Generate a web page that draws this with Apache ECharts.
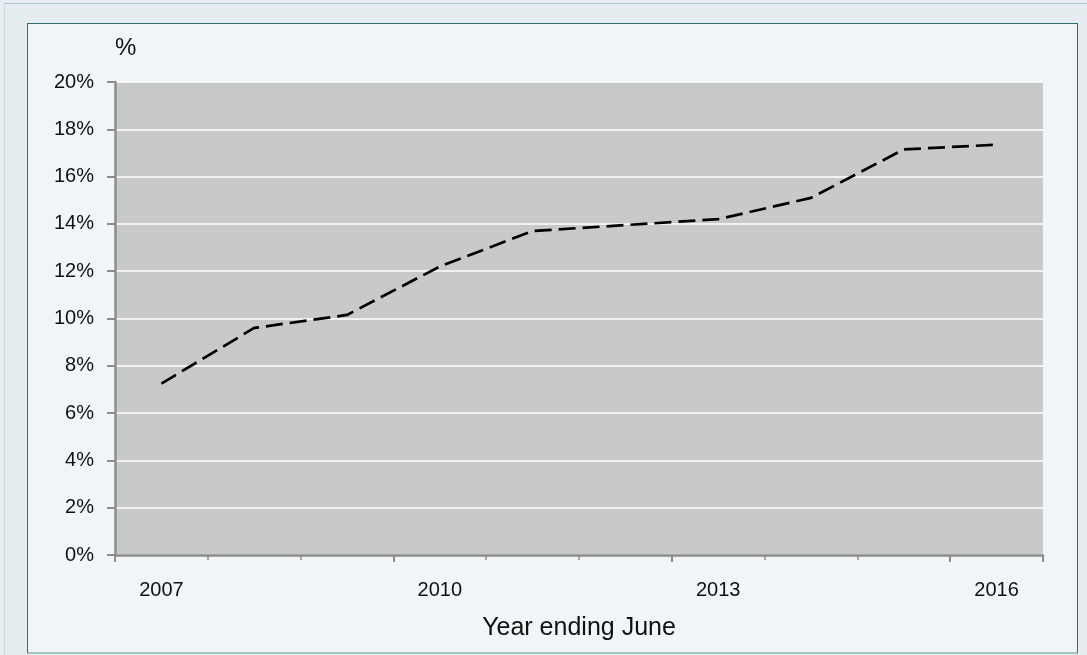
<!DOCTYPE html>
<html>
<head>
<meta charset="utf-8">
<script src="https://cdn.jsdelivr.net/npm/echarts@6/dist/echarts.min.js"></script>
<style>
  html, body { margin: 0; padding: 0; width: 1087px; height: 655px; overflow: hidden; background: #e5edf0; }
  #outer { position: absolute; left: 4px; top: 3px; width: 1083px; height: 652px; border-top: 1px solid #a9c8cb; border-left: 1px solid #c9dadd; background: #e5edf0; box-sizing: border-box; }
  #inner { position: absolute; left: 27px; top: 23px; width: 1051px; height: 631px; border: 1.5px solid #2f6c70; border-bottom: 2px solid #9fc9c6; background: #f1f5f7; box-sizing: border-box; }
  #chart { position: absolute; left: 0; top: 0; width: 1087px; height: 655px; }
</style>
</head>
<body>
<div id="outer"></div>
<div id="inner"></div>
<div id="chart"></div>
<script>
const categories = ['2007', '2008', '2009', '2010', '2011', '2012', '2013', '2014', '2015', '2016'];
const values = [7.25, 9.6, 10.15, 12.2, 13.7, 13.95, 14.2, 15.1, 17.15, 17.35];
const yTicks = [0, 2, 4, 6, 8, 10, 12, 14, 16, 18, 20];

const chart = echarts.init(document.getElementById('chart'), null, { renderer: 'canvas' });
const font = '"Liberation Sans", Arial, sans-serif';

chart.setOption({
  backgroundColor: 'transparent',
  animation: false,
  grid: {
    left: 115, right: 44, top: 82, bottom: 100,
    show: true, backgroundColor: '#c8c9cb', borderWidth: 0
  },
  xAxis: [{
    type: 'category',
    data: categories,
    boundaryGap: true,
    name: 'Year ending June',
    nameLocation: 'middle',
    nameGap: 61,
    nameTextStyle: { fontFamily: font, fontSize: 25, color: '#111' },
    axisLine: { lineStyle: { color: '#8c8c8c', width: 2.5 } },
    axisTick: { show: true, interval: 0, length: 5, lineStyle: { color: '#8c8c8c', width: 1.5 } },
    axisLabel: { interval: 2, margin: 25, fontFamily: font, fontSize: 20, color: '#111' },
    splitLine: { show: false }
  }, {
    type: 'category',
    data: categories,
    position: 'bottom',
    boundaryGap: true,
    axisLine: { show: false },
    axisTick: { show: true, interval: 2, length: 7, lineStyle: { color: '#8c8c8c', width: 2 } },
    axisLabel: { show: false },
    splitLine: { show: false }
  }],
  yAxis: {
    type: 'value',
    min: yTicks[0],
    max: yTicks[yTicks.length - 1],
    interval: yTicks[1] - yTicks[0],
    name: '%',
    nameLocation: 'end',
    nameGap: 22,
    nameTextStyle: { fontFamily: font, fontSize: 24, color: '#111', align: 'left' },
    axisLine: { show: true, lineStyle: { color: '#8c8c8c', width: 2.5 } },
    axisTick: { show: true, length: 8, lineStyle: { color: '#8c8c8c', width: 2 } },
    axisLabel: { margin: 21, fontFamily: font, fontSize: 20, color: '#111', formatter: v => v + '%' },
    splitLine: { show: true, lineStyle: { color: '#ffffff', width: 1.5 } }
  },
  series: [{
    type: 'line',
    data: values,
    symbol: 'none',
    lineStyle: { color: '#000', width: 2.7, type: [17, 7], cap: 'butt' },
    z: 3
  }]
});
</script>
</body>
</html>
